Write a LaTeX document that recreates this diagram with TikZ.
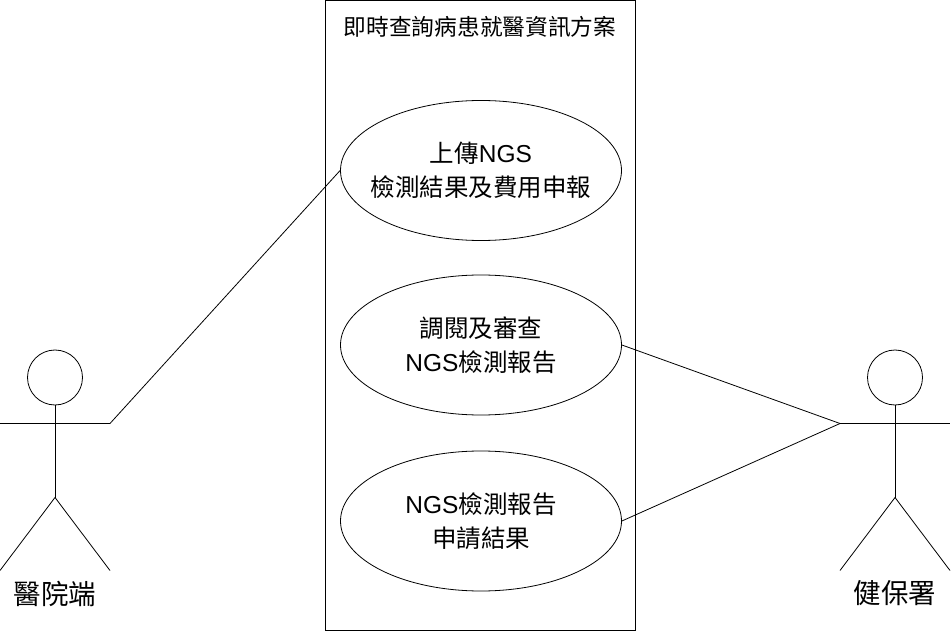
\documentclass[tikz,border=0pt]{standalone}
\usepackage{fontspec}
\setmainfont{Noto Sans CJK TC}
\newfontfamily\latfont{Liberation Sans}
\usetikzlibrary{shapes.geometric}
\def\stickman(#1,#2)#3{%
	\draw (#1, #2) circle (27.5);
	\draw (#1-55, #2+46) -- (#1+55, #2+46);
	\draw (#1, #2+27.5) -- (#1, #2+120);
	\draw (#1-55, #2+193) -- (#1, #2+120) -- (#1+55, #2+193);
	\node[font=\fontsize{27.5}{30}\selectfont] (#3) at (#1, #2+216) {\csname lbl#3\endcsname};
}
\def\lblhosp{醫院端}
\def\lblnhi{健保署}
\def\ngs{{\latfont NGS}}
\tikzset{
	usecase/.style={draw, ellipse, line width=0.8pt, minimum width=281, minimum height=140, inner sep=-45pt, align=center, font=\fontsize{24.5}{34}\selectfont}
}

\begin{document}
\begin{tikzpicture}[x=1pt, y=-1pt, line width=0.8pt]
			%%%%% START %%%%%
			
			\useasboundingbox (0, 0) rectangle (951, 631);
			
			\draw[line width=1pt] (325, 1) rectangle (635, 630);
			\node[font=\fontsize{22.7}{26}\selectfont] (title) at (480, 27) {即時查詢病患就醫資訊方案};
			
			\node[usecase] (upload) at (481, 170.5) {上傳\ngs\\檢測結果及費用申報};
			\node[usecase] (review) at (481, 345) {調閱及審查\\\ngs 檢測報告};
			\node[usecase] (result) at (481, 521) {\ngs 檢測報告\\申請結果};
			
			\stickman(55, 377.5){hosp}
			\stickman(895, 377.5){nhi}
			
			\coordinate (hosparm) at (110, 423.5);
			\coordinate (nhiarm) at (840, 423.5);
			
			\draw (hosparm) -- (upload.west);
			\draw (nhiarm) -- (review.east);
			\draw (nhiarm) -- (result.east);
			
			%%%%% END %%%%%
		\end{tikzpicture}
\end{document}
